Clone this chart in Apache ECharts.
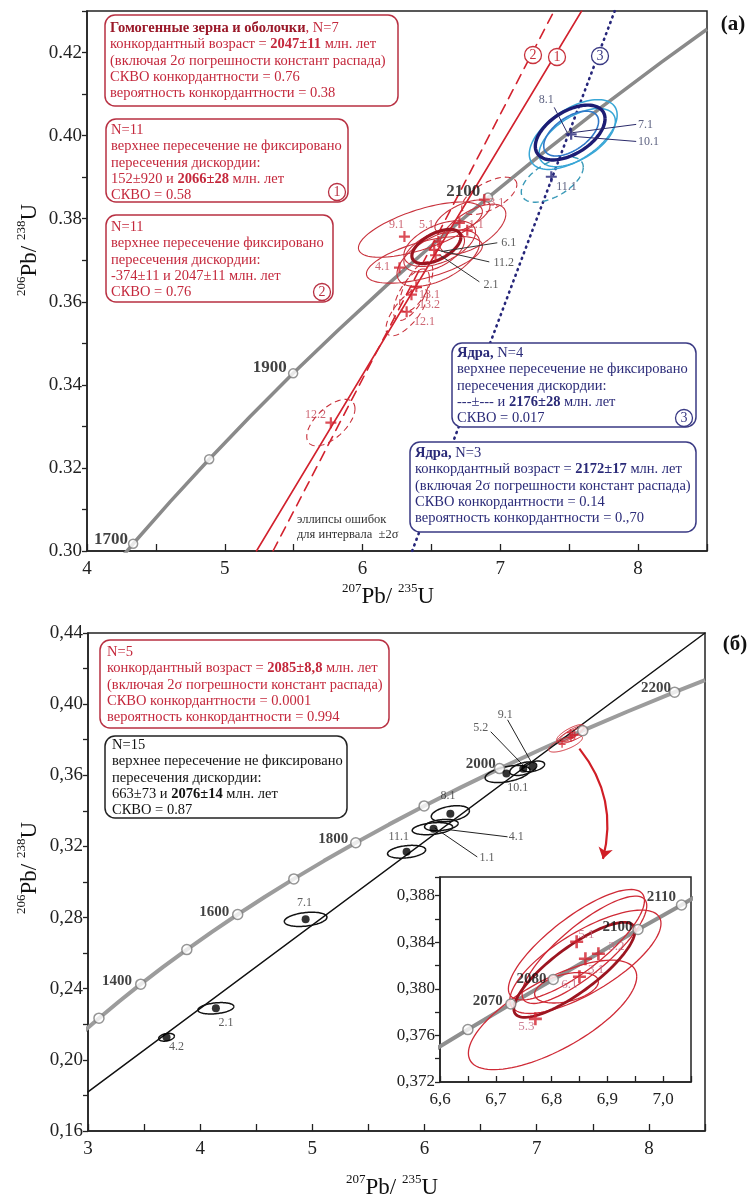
<!DOCTYPE html>
<html><head><meta charset="utf-8">
<script src="https://cdn.jsdelivr.net/npm/echarts@6/dist/echarts.min.js"></script>
<style>html,body{margin:0;padding:0;background:#fff}#c{width:754px;height:1199px}</style>
</head><body><div id="c"></div>
<script>
const FONT = '"Liberation Serif","Times New Roman",serif';

// ================= DATA =================
// ---- Panel (a): concordia (age, 207Pb/235U, 206Pb/238U)
const concAgesA = [1650,1700,1750,1800,1850,1900,1950,2000,2050,2100,2150,2200,2250,2286];
const concXA = [4.0784,4.3348,4.6041,4.8869,5.1841,5.4962,5.8241,6.1686,6.5304,6.9104,7.3097,7.7291,8.1698,8.5000];
const concYA = [0.29170,0.30174,0.31189,0.32210,0.33239,0.34277,0.35322,0.36377,0.37438,0.38509,0.39587,0.40674,0.41769,0.42561];
const concMarkAgesA = [1700,1800,1900,2100];
const concAgeLabelsA = [['1700',4.297,0.3027],['1900',5.449,0.3441],['2100',6.855,0.3865]];
// discordia lines (endpoints)
const discordA1 = [[5.23,0.30],[7.59,0.43]];   // 1 solid
const discordA2 = [[5.35,0.30],[7.39,0.43]];   // 2 dashed
const discordA3 = [[6.36,0.30],[7.83,0.43]];   // 3 dotted
// ellipses: [x, y, sx, sy, rho]
const ellA_red = [
  [6.420,0.37736,0.45,0.00665,0.66], // 9.1
  [6.449,0.3701,0.421,0.00562,0.60], // 4.1
  [6.725,0.3805,0.20,0.00402,0.63],  // 5.1
  [6.800,0.3775,0.24,0.0060,0.60],   // 1.1
  [6.560,0.3740,0.26,0.0055,0.50],   // 6.1
  [6.520,0.3722,0.22,0.0050,0.50],   // 11.2
  [6.550,0.3705,0.30,0.0068,0.55]    // 2.1
];
const ellA_redAge = [[6.536,0.3733,0.178,0.00412,0.55]];
const ellA_redDash = [
  [6.920,0.3855,0.20,0.0045,0.60],  // 3.1
  [6.390,0.3636,0.12,0.0060,0.65],  // 13.1
  [6.355,0.3617,0.13,0.0062,0.65],  // 13.2
  [6.320,0.3576,0.15,0.0058,0.70],  // 12.1
  [5.770,0.3309,0.175,0.0056,0.60]  // 12.2
];
const ellA_navy = [[7.507,0.40074,0.253,0.00660,0.50]];
const ellA_cyan = [[7.529,0.40026,0.319,0.00840,0.56],[7.558,0.39953,0.277,0.00700,0.56]];
const ellA_blue = [[7.514,0.4005,0.199,0.0054,0.55]];
const ellA_tealDash = [[7.377,0.38941,0.225,0.00545,0.55]];
const crossA_red = [[6.884,0.3846],[6.703,0.3790],[6.304,0.3757],[6.268,0.3682],[6.39,0.3636],[6.355,0.3617],[6.32,0.3576],[5.77,0.3309],[6.55,0.3745],[6.52,0.3725],[6.53,0.3712],[6.76,0.3772]];
const crossA_navy = [[7.514,0.4003],[7.370,0.3901]];
const labelsA_red = [['3.1',6.92,0.3839,'left'],['9.1',6.246,0.3786,'center'],['5.1',6.464,0.3786,'center'],['1.1',6.826,0.3786,'center'],['4.1',6.145,0.3684,'center'],['13.1',6.486,0.3617,'center'],['13.2',6.486,0.3593,'center'],['12.1',6.449,0.3552,'center'],['12.2',5.659,0.3328,'center']];
const labelsA_black = [['6.1',7.007,0.3742,'left'],['11.2',6.95,0.3694,'left'],['2.1',6.877,0.3641,'left']];
const labelsA_blue = [['8.1',7.333,0.4087,'center'],['7.1',8.0,0.4027,'left'],['10.1',8.0,0.3986,'left'],['11.1',7.406,0.3877,'left']];
const leadersA_black = [[6.572,0.3721,6.978,0.3742],[6.536,0.3725,6.920,0.3696],[6.558,0.3713,6.848,0.3648]];
const leadersA_navy = [[7.391,0.4068,7.486,0.4007],[7.522,0.4007,7.986,0.4027],[7.536,0.3998,7.986,0.3986]];

// ---- Panel (б)
const concAgesB = [1250,1300,1350,1400,1450,1500,1550,1600,1650,1700,1750,1800,1850,1900,1950,2000,2050,2100,2150,2200,2231];
const concXB = [2.9249,3.0977,3.2793,3.4701,3.6705,3.8810,4.1021,4.3344,4.5784,4.8348,5.1041,5.3869,5.6841,5.9962,6.3241,6.6686,7.0304,7.4104,7.8097,8.2291,8.5000];
const concYB = [0.21399,0.22344,0.23296,0.24256,0.25224,0.26199,0.27181,0.28172,0.29170,0.30174,0.31189,0.32210,0.33239,0.34277,0.35322,0.36377,0.37438,0.38509,0.39587,0.40674,0.41354];
const concMarkAgesB = [1300,1400,1500,1600,1700,1800,1900,2000,2100,2200];
const concAgeLabelsB = [['1400',3.393,0.2444],['1600',4.259,0.2832],['1800',5.321,0.3243],['2000',6.634,0.3665],['2200',8.196,0.4092]];
const discordB = [[3.0,0.182],[8.5,0.44]];
const ellB = [
  [3.70,0.2127,0.07,0.0022,0.30],  // 4.2
  [4.14,0.2290,0.16,0.0032,0.30],  // 2.1
  [4.94,0.2790,0.19,0.0040,0.30],  // 7.1
  [5.84,0.3170,0.17,0.0036,0.30],  // 11.1
  [6.07,0.3300,0.18,0.0034,0.30],  // 1.1
  [6.15,0.3320,0.15,0.0032,0.30],  // 4.1
  [6.23,0.3384,0.17,0.0045,0.35],  // 8.1
  [6.74,0.3607,0.20,0.0048,0.45],  // 10.1
  [6.88,0.3637,0.12,0.0038,0.45],  // 5.2
  [6.97,0.3650,0.10,0.0030,0.40]   // 9.1
];
const dotsB = [[3.70,0.2127],[4.14,0.2290],[4.94,0.2790],[5.84,0.3170],[6.08,0.3300],[6.23,0.3384],[6.73,0.3610],[6.88,0.3637],[6.96,0.3648]];
const labelsB = [['4.2',3.79,0.2073,'center'],['2.1',4.23,0.2208,'center'],['7.1',4.93,0.2883,'center'],['11.1',5.77,0.3254,'center'],['8.1',6.21,0.3485,'center'],['1.1',6.49,0.3135,'left'],['4.1',6.75,0.3254,'left'],['5.2',6.50,0.3867,'center'],['9.1',6.72,0.3940,'center'],['10.1',6.83,0.3530,'center']];
const leadersB = [[6.09,0.3305,6.47,0.3141],[6.23,0.3293,6.74,0.3254],[6.59,0.3845,6.875,0.3659],[6.74,0.3912,6.95,0.3676]];
const arrowB = [[7.38,0.375],[7.59,0.313]];
const clusterShiftB = 0.455; // inset cluster drawn in main panel (б)

// ---- Inset
const concAgesI = [2050,2060,2070,2080,2090,2100,2110,2120];
const concXI = [6.574,6.650,6.727,6.803,6.879,6.955,7.033,7.111];
const concYI = [0.3743,0.3765,0.3787,0.3808,0.3829,0.3851,0.3872,0.3894];
const concMarkAgesI = [2060,2070,2080,2100,2110];
const concAgeLabelsI = [['2110',7.023,0.38791],['2100',6.945,0.38533],['2080',6.791,0.38086],['2070',6.7125,0.37897]];
const ellI = [
  [6.8446,0.38379,0.122,0.00474,0.80],  // 5.1
  [6.8607,0.38232,0.1355,0.00444,0.74], // 3.2
  [6.8589,0.38335,0.1118,0.00461,0.82], // 3.1
  [6.8268,0.38009,0.0572,0.00131,0.40], // 6.1
  [6.8018,0.37776,0.1509,0.00470,0.70]  // 5.3
];
const ellI_age = [[6.841,0.38163,0.1087,0.00408,0.82]];
const crossI = [[6.845,0.38404],[6.884,0.38301],[6.8607,0.38258],[6.850,0.38103],[6.771,0.37742]];
const labelsI = [['5.1',6.8625,0.38465],['3.2',6.916,0.38361],['3.1',6.880,0.38163],['6.1',6.832,0.38034],['5.3',6.755,0.37673]];

// ================= HELPERS =================
const PLUS = 'path://M4,0H6V4H10V6H6V10H4V6H0V4H4Z';
function pairs(xs, ys) { return xs.map((x, i) => [x, ys[i]]); }
function ellipseSeries(g, data, color, width, dash, z) {
  return {
    type: 'custom', xAxisIndex: g, yAxisIndex: g, data: data, z: z || 4, silent: true, clip: true,
    encode: {x: 0, y: 1},
    renderItem: function (params, api) {
      const cx = api.value(0), cy = api.value(1), sx = api.value(2), sy = api.value(3), r = api.value(4);
      const k = Math.sqrt(1 - r * r), pts = [];
      for (let i = 0; i <= 100; i++) {
        const t = i / 100 * Math.PI * 2;
        pts.push(api.coord([cx + sx * Math.cos(t), cy + sy * (r * Math.cos(t) + k * Math.sin(t))]));
      }
      return {type: 'polyline', shape: {points: pts}, style: {fill: 'none', stroke: color, lineWidth: width, lineDash: dash || null}};
    }
  };
}
function segSeries(g, data, color, width) {
  return {
    type: 'custom', xAxisIndex: g, yAxisIndex: g, data: data, z: 7, silent: true,
    encode: {x: [0, 2], y: [1, 3]},
    renderItem: function (params, api) {
      const a = api.coord([api.value(0), api.value(1)]), b = api.coord([api.value(2), api.value(3)]);
      return {type: 'line', shape: {x1: a[0], y1: a[1], x2: b[0], y2: b[1]}, style: {stroke: color, lineWidth: width}};
    }
  };
}
function labelSeries(g, items, color, size, weight, defAlign) {
  return {
    type: 'scatter', xAxisIndex: g, yAxisIndex: g, symbolSize: 1, silent: true, z: 20,
    itemStyle: {color: 'rgba(0,0,0,0)'},
    data: items.map(d => ({value: [d[1], d[2]], name: d[0], label: {align: d[3] || defAlign}})),
    label: {show: true, position: 'inside', formatter: '{b}', color: color, fontSize: size,
      fontWeight: weight, fontFamily: FONT, align: defAlign, verticalAlign: 'middle'}
  };
}
function concSeries(g, xs, ys, ages, markAges, color, width, msize) {
  const pts = pairs(xs, ys);
  return [
    {type: 'line', xAxisIndex: g, yAxisIndex: g, data: pts, showSymbol: false, smooth: false, z: 3, silent: true,
      lineStyle: {color: color, width: width}},
    {type: 'scatter', xAxisIndex: g, yAxisIndex: g, z: 6, silent: true, symbol: 'circle', symbolSize: msize,
      data: pts.filter((p, i) => markAges.indexOf(ages[i]) >= 0),
      itemStyle: {color: '#fff', borderColor: '#7a7a7a', borderWidth: 1.5}}
  ];
}
function crossSeries(g, data, color, size) {
  return {type: 'scatter', xAxisIndex: g, yAxisIndex: g, data: data, symbol: PLUS, symbolSize: size, z: 8, silent: true,
    itemStyle: {color: color}};
}
function lineSeg(g, data, color, width, type) {
  return {type: 'line', xAxisIndex: g, yAxisIndex: g, data: data, showSymbol: false, z: 3, silent: true,
    lineStyle: {color: color, width: width, type: type, cap: 'round'}};
}
const isMult = (v, step) => Math.abs(v / step - Math.round(v / step)) < 1e-6;
function axisBase(g, min, max, interval, fmt, size, inside, len) {
  return {
    gridIndex: g, type: 'value', min: min, max: max, interval: interval,
    axisLine: {show: true, onZero: false, lineStyle: {color: '#222', width: 1.5}},
    axisTick: {show: true, inside: inside, length: len, lineStyle: {color: '#222', width: 1.3}},
    splitLine: {show: false},
    axisLabel: {formatter: fmt, fontFamily: FONT, fontSize: size, color: '#222', margin: inside ? 9 : 5}
  };
}

// ================= SERIES =================
const RED = '#d2222e', RED_DK = '#9c1520', NAVY = '#26267a';
const series = [];
// Panel (a)
series.push(...concSeries(0, concXA, concYA, concAgesA, concMarkAgesA, '#8a8a8a', 3.5, 9));
series.push(lineSeg(0, discordA1, RED, 1.6, 'solid'));
series.push(lineSeg(0, discordA2, RED, 1.6, [10, 7]));
series.push(lineSeg(0, discordA3, NAVY, 2.6, [1, 5]));
series.push(ellipseSeries(0, ellA_red, '#c8323c', 1.1));
series.push(ellipseSeries(0, ellA_redDash, '#c8323c', 1.1, [6, 4]));
series.push(ellipseSeries(0, ellA_redAge, RED_DK, 3.2, null, 5));
series.push(ellipseSeries(0, ellA_cyan, '#38a6d6', 1.5));
series.push(ellipseSeries(0, ellA_blue, '#2f78c8', 1.6));
series.push(ellipseSeries(0, ellA_navy, '#1c1c74', 3.4, null, 5));
series.push(ellipseSeries(0, ellA_tealDash, '#3a9ab8', 1.4, [6, 4]));
series.push(crossSeries(0, crossA_red, RED, 11));
series.push(crossSeries(0, crossA_navy, NAVY, 11));
series.push(segSeries(0, leadersA_black, '#333', 1));
series.push(segSeries(0, leadersA_navy, '#2a2a6a', 1));
series.push(labelSeries(0, labelsA_red, '#c04050', 12, 'normal', 'center'));
series.push(labelSeries(0, labelsA_black, '#333', 12, 'normal', 'left'));
series.push(labelSeries(0, labelsA_blue, '#333a60', 12, 'normal', 'center'));
series.push(labelSeries(0, concAgeLabelsA, '#111', 17, 'bold', 'right'));
// Panel (б)
series.push(...concSeries(1, concXB, concYB, concAgesB, concMarkAgesB, '#9c9c9c', 4, 10));
series.push(lineSeg(1, discordB, '#111', 1.5, 'solid'));
series.push(ellipseSeries(1, ellB, '#111', 1.5));
series.push({type: 'scatter', xAxisIndex: 1, yAxisIndex: 1, data: dotsB, symbol: 'circle', symbolSize: 8, z: 8, silent: true, itemStyle: {color: '#000'}});
series.push(segSeries(1, leadersB, '#222', 1));
series.push(labelSeries(1, labelsB, '#333', 12, 'normal', 'center'));
series.push(labelSeries(1, concAgeLabelsB, '#111', 15, 'bold', 'right'));
series.push(ellipseSeries(1, ellI.map(e => [e[0] + clusterShiftB, e[1], e[2], e[3], e[4]]), '#d0303a', 1));
series.push(crossSeries(1, crossI.map(p => [p[0] + clusterShiftB, p[1]]), RED, 7));
series.push({type: 'lines', coordinateSystem: 'cartesian2d', xAxisIndex: 1, yAxisIndex: 1, z: 9, silent: true,
  symbol: ['none', 'arrow'], symbolSize: 11,
  data: [{coords: arrowB}], lineStyle: {color: '#d01e26', width: 2.2, curveness: 0.25, opacity: 1}});
// Inset
series.push(...concSeries(2, concXI, concYI, concAgesI, concMarkAgesI, '#8f8f8f', 4, 10));
series.push(ellipseSeries(2, ellI, '#cf2a36', 1.3));
series.push(ellipseSeries(2, ellI_age, RED_DK, 2.8, null, 5));
series.push(crossSeries(2, crossI, RED, 13));
series.push(labelSeries(2, labelsI, '#c0607a', 13, 'normal', 'center'));
series.push(labelSeries(2, concAgeLabelsI, '#111', 15, 'bold', 'right'));

// ================= GRAPHIC (text boxes, titles) =================
function box(x, y, w, h, stroke, fill, text, rich, tx, ty) {
  return {type: 'group', z: 100, children: [
    {type: 'rect', z: 100, shape: {x: x, y: y, width: w, height: h, r: 10}, style: {fill: '#fff', stroke: stroke, lineWidth: 1.5}},
    {type: 'text', z: 101, x: tx, y: ty, style: {text: text, fill: fill, fontSize: 14.5, fontFamily: FONT, lineHeight: 16.3,
      align: 'left', verticalAlign: 'top', rich: rich}}
  ]};
}
function circNum(cx, cy, n, color) {
  return {type: 'group', z: 110, children: [
    {type: 'circle', z: 110, shape: {cx: cx, cy: cy, r: 8.5}, style: {fill: '#fff', stroke: color, lineWidth: 1.3}},
    {type: 'text', z: 111, x: cx, y: cy + 0.5, style: {text: n, fill: color, fontSize: 14, fontFamily: FONT, align: 'center', verticalAlign: 'middle'}}
  ]};
}
function richB(color) { return {b: {fontWeight: 'bold', fill: color, fontSize: 14.5, fontFamily: FONT, lineHeight: 16.3}}; }
function axisTitle(x, y, rot, s1, m1, s2, m2) {
  return {type: 'text', z: 100, x: x, y: y, rotation: rot, style: {
    text: '{s|' + s1 + '}{m|' + m1 + '}{s|' + s2 + '}{m|' + m2 + '}',
    rich: {s: {fontSize: 13, fontFamily: FONT, fill: '#111', verticalAlign: 'top', lineHeight: 26},
           m: {fontSize: 23, fontFamily: FONT, fill: '#111', verticalAlign: 'bottom', lineHeight: 26}},
    align: 'center', verticalAlign: 'middle'}};
}
const RT = '#c4283c', BT = '#2a2a78';
const graphic = [
  box(105, 15, 293, 91, '#b83042', RT,
    '{h|Гомогенные зерна и оболочки}, N=7\nконкордантный возраст = {b|2047±11} млн. лет\n(включая 2σ погрешности констант распада)\nСКВО конкордантности = 0.76\nвероятность конкордантности = 0.38',
    Object.assign(richB(RT), {h: {fontWeight: 'bold', fill: '#9a1828', fontSize: 14.5, fontFamily: FONT, lineHeight: 16.3}}), 110, 20),
  box(106, 119, 242, 83, '#b83042', RT,
    'N=11\nверхнее пересечение не фиксировано\nпересечения дискордии:\n152±920 и {b|2066±28} млн. лет\nСКВО = 0.58', richB(RT), 111, 122),
  circNum(337, 192, '1', '#b83042'),
  box(106, 215, 227, 87, '#b83042', RT,
    'N=11\nверхнее пересечение фиксировано\nпересечения дискордии:\n-374±11 и 2047±11 млн. лет\nСКВО = 0.76', richB(RT), 111, 219),
  circNum(322, 292, '2', '#b83042'),
  box(452, 343, 244, 84, '#3a3a84', BT,
    '{b|Ядра,} N=4\nверхнее пересечение не фиксировано\nпересечения дискордии:\n---±--- и {b|2176±28} млн. лет\nСКВО = 0.017', richB(BT), 457, 345),
  circNum(684, 418, '3', '#3a3a84'),
  box(410, 442, 286, 90, '#3a3a84', BT,
    '{b|Ядра,} N=3\nконкордантный возраст = {b|2172±17} млн. лет\n(включая 2σ погрешности констант распада)\nСКВО конкордантности = 0.14\nвероятность конкордантности = 0.,70', richB(BT), 415, 445),
  circNum(533, 55, '2', '#c8323c'),
  circNum(557, 57, '1', '#c8323c'),
  circNum(600, 56, '3', '#3a3a84'),
  {type: 'text', z: 100, x: 297, y: 512, style: {text: 'эллипсы ошибок\nдля интервала  ±2σ', fill: '#333', fontSize: 12.5, fontFamily: FONT, lineHeight: 15, align: 'left', verticalAlign: 'top'}},
  box(100, 640, 289, 88, '#b83042', RT,
    'N=5\nконкордантный возраст = {b|2085±8,8} млн. лет\n(включая 2σ погрешности констант распада)\nСКВО конкордантности = 0.0001\nвероятность конкордантности = 0.994', richB(RT), 107, 644),
  box(105, 736, 242, 82, '#222', '#111',
    'N=15\nверхнее пересечение не фиксировано\nпересечения дискордии:\n663±73 и {b|2076±14} млн. лет\nСКВО = 0.87', richB('#111'), 112, 737),
  axisTitle(388, 595, 0, '207', 'Pb/ ', '235', 'U'),
  axisTitle(392, 1186, 0, '207', 'Pb/ ', '235', 'U'),
  axisTitle(28, 250, Math.PI / 2, '206', 'Pb/ ', '238', 'U'),
  axisTitle(28, 868, Math.PI / 2, '206', 'Pb/ ', '238', 'U'),
  {type: 'text', z: 100, x: 733, y: 25, style: {text: '(a)', fill: '#111', fontSize: 21, fontWeight: 'bold', fontFamily: FONT, align: 'center', verticalAlign: 'middle'}},
  {type: 'text', z: 100, x: 735, y: 645, style: {text: '(б)', fill: '#111', fontSize: 21, fontWeight: 'bold', fontFamily: FONT, align: 'center', verticalAlign: 'middle'}}
];

// ================= OPTION =================
const intFmt = v => isMult(v, 1) ? String(Math.round(v)) : '';
const option = {
  animation: false,
  backgroundColor: '#fff',
  textStyle: {fontFamily: FONT},
  grid: [
    {left: 87, top: 11, width: 620, height: 540, show: true, borderColor: '#222', borderWidth: 1.5, backgroundColor: 'transparent'},
    {left: 88, top: 633, width: 617, height: 498, show: true, borderColor: '#222', borderWidth: 1.5, backgroundColor: 'transparent'},
    {left: 440, top: 877, width: 251, height: 205, show: true, borderColor: '#222', borderWidth: 1.5, backgroundColor: '#fff'}
  ],
  xAxis: [
    axisBase(0, 4, 8.5, 0.5, intFmt, 19, true, 7),
    axisBase(1, 3, 8.5, 0.5, intFmt, 19, true, 7),
    axisBase(2, 6.6, 7.05, 0.05, v => isMult(v, 0.1) ? v.toFixed(1).replace('.', ',') : '', 17, true, 6)
  ],
  yAxis: [
    axisBase(0, 0.30, 0.43, 0.01, v => isMult(v, 0.02) ? v.toFixed(2) : '', 19, false, 5),
    axisBase(1, 0.16, 0.44, 0.02, v => isMult(v, 0.04) ? v.toFixed(2).replace('.', ',') : '', 19, false, 5),
    axisBase(2, 0.372, 0.3896, 0.002, v => isMult(v, 0.004) ? v.toFixed(3).replace('.', ',') : '', 17, false, 5)
  ],
  series: series,
  graphic: graphic
};
const chart = echarts.init(document.getElementById('c'), null, {renderer: 'canvas'});
chart.setOption(option);
</script>
</body></html>
